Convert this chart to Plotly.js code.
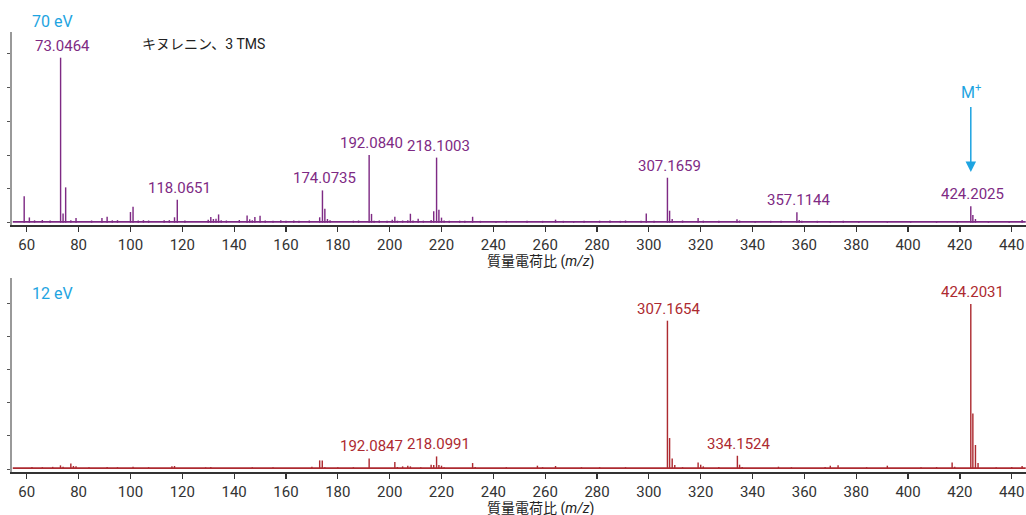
<!DOCTYPE html>
<html>
<head>
<meta charset="utf-8">
<script src="https://cdn.plot.ly/plotly-3.0.1.min.js"></script>
<style>
  html, body { margin: 0; padding: 0; background: #fff; }
  #chart { width: 1026px; height: 515px; }
</style>
</head>
<body>
<div id="chart"></div>
<script>
// ---------- DATA ----------
// 70 eV spectrum: m/z and relative intensity (axis units, 20 per tick)
const top_mz = [59, 61, 63, 66, 69, 73.0464, 74, 75, 77, 79, 85, 89, 91, 93, 95, 100, 101, 103, 105, 107,
  113, 115, 117, 118.0651, 121, 130, 131, 132, 133, 134, 135, 137, 142, 145, 146, 147, 148, 150, 152, 155,
  158, 160, 163, 165, 169, 173, 174.0735, 175, 176, 177, 186, 188, 192.084, 193, 194, 196, 199, 201, 202, 203,
  205, 207, 208, 209, 211, 213, 216, 217, 218.1003, 219, 220, 221, 223, 227, 229, 232, 235, 241, 245, 253,
  259, 264, 267, 271, 275, 281, 285, 289, 291, 297, 299, 302, 307.1659, 308, 309, 313, 319, 321, 327, 334,
  335, 341, 347, 351, 357.1144, 358, 359, 365, 370, 375, 381, 392, 401, 411, 419, 424.2025, 425, 426, 431, 439, 444];
const top_int = [15.6, 3.1, 1.4, 1.6, 1.3, 97.6, 5.5, 20.9, 1.4, 2.8, 1.3, 2.8, 3.5, 1.4, 1.5, 6.3, 9.5, 1.3, 1.5, 1.3,
  1.4, 1.5, 3.2, 13.6, 1.3, 1.8, 3.3, 2.2, 2.4, 4.9, 1.4, 1.3, 1.6, 4.3, 2.0, 1.4, 3.3, 4.1, 1.3, 1.2,
  1.4, 1.2, 1.3, 1.2, 1.3, 3.2, 19.1, 8.3, 2.2, 1.5, 1.2, 1.3, 40.1, 5.2, 1.2, 1.3, 1.2, 1.8, 3.5, 1.2,
  1.3, 1.4, 5.3, 1.3, 2.4, 1.2, 1.6, 6.7, 38.5, 7.7, 3.0, 1.3, 1.2, 1.2, 1.1, 3.5, 1.1, 1.0, 1.1, 1.1,
  1.1, 1.8, 1.1, 1.0, 1.1, 1.2, 1.3, 1.1, 1.3, 1.1, 5.5, 1.2, 26.6, 7.1, 2.2, 1.3, 2.8, 1.2, 1.1, 2.0,
  1.3, 1.0, 1.1, 1.1, 6.2, 1.6, 1.2, 1.1, 1.0, 1.1, 1.0, 0.9, 1.0, 1.0, 1.0, 9.7, 4.5, 2.2, 1.0, 1.0, 1.6];
const top_labels = [73.0464, 118.0651, 174.0735, 192.0840, 218.1003, 307.1659, 357.1144, 424.2025];

// 12 eV spectrum
const bot_mz = [62, 66, 70, 73, 74, 77, 78, 79, 84, 91, 95, 101, 107, 116, 117, 129, 131, 147, 155, 170,
  173, 174, 175, 180, 186, 192.0847, 202, 203, 205, 207, 208, 212, 216, 217, 218.0991, 219, 220, 221, 232, 233,
  245, 257, 259, 264, 274, 281, 291, 307.1654, 308, 309, 310, 313, 319, 320, 321, 327, 334.1524, 335, 336, 350,
  355, 368, 370, 373, 384, 392, 405, 411, 417, 418, 424.2031, 425, 426, 427, 434, 440, 444];
const bot_int = [1.2, 1.1, 1.3, 2.2, 1.4, 3.4, 1.8, 1.6, 1.1, 1.2, 1.1, 1.4, 1.1, 1.6, 1.8, 1.0, 1.2, 1.1, 1.0, 1.3,
  5.2, 5.2, 1.0, 1.1, 1.1, 6.4, 4.2, 1.2, 1.6, 2.0, 1.6, 1.1, 2.6, 2.4, 7.6, 2.4, 2.0, 1.0, 3.6, 1.2,
  1.1, 2.0, 1.1, 1.8, 1.1, 1.1, 1.1, 89.6, 18.7, 6.4, 2.4, 1.1, 4.0, 2.6, 1.6, 1.2, 8.0, 2.6, 1.2, 1.4,
  1.1, 1.2, 2.0, 2.2, 1.1, 2.0, 1.1, 1.2, 4.0, 1.4, 99.7, 33.6, 14.5, 3.6, 1.1, 1.2, 1.8];
const bot_labels = [192.0847, 218.0991, 307.1654, 334.1524, 424.2031];

// baseline noise level (dense noise floor) per panel
const noise_x = [54.6, 445.4];
const top_noise = [1.0, 1.0];
const bot_noise = [1.1, 1.1];

const x_ticks = [60, 80, 100, 120, 140, 160, 180, 200, 220, 240, 260, 280, 300, 320, 340, 360, 380, 400, 420, 440];
const y_ticks = [0, 20, 40, 60, 80, 100];

// ---------- STYLE ----------
const purple = '#7e2a84';
const red = '#ad2a30';
const cyan = '#1ea4e1';
const narrow = "Roboto, 'Noto Sans CJK JP', sans-serif";
const H = 515, W = 1026;
const xDom = [12 / W, 1];
const topDom = [(H - 225) / H, (H - 32) / H];
const botDom = [(H - 472) / H, (H - 278) / H];

function lookup(mz, ints, m) {
  const i = mz.indexOf(m);
  return ints[i];
}

const traces = [
  { type: 'scatter', mode: 'lines', x: noise_x, y: top_noise, fill: 'tozeroy', fillcolor: purple,
    line: { width: 0, color: purple }, xaxis: 'x', yaxis: 'y', hoverinfo: 'skip' },
  { type: 'bar', x: top_mz, y: top_int, width: 0.55, marker: { color: purple, line: { width: 0 } },
    xaxis: 'x', yaxis: 'y' },
  { type: 'scatter', mode: 'lines', x: noise_x, y: bot_noise, fill: 'tozeroy', fillcolor: red,
    line: { width: 0, color: red }, xaxis: 'x2', yaxis: 'y2', hoverinfo: 'skip' },
  { type: 'bar', x: bot_mz, y: bot_int, width: 0.55, marker: { color: red, line: { width: 0 } },
    xaxis: 'x2', yaxis: 'y2' }
];

const annotations = [];
top_labels.forEach(m => {
  annotations.push({ xref: 'x', yref: 'y', x: m, y: lookup(top_mz, top_int, m), text: m.toFixed(4),
    showarrow: false, yanchor: 'middle', xanchor: 'center', yshift: 12, xshift: 2,
    font: { family: narrow, size: 15, color: purple } });
});
bot_labels.forEach(m => {
  annotations.push({ xref: 'x2', yref: 'y2', x: m, y: lookup(bot_mz, bot_int, m), text: m.toFixed(4),
    showarrow: false, yanchor: 'middle', xanchor: 'center', yshift: 12, xshift: 2,
    font: { family: narrow, size: 15, color: red } });
});
// panel labels
annotations.push({ xref: 'paper', yref: 'paper', x: 52 / W, y: (H - 21.5) / H, text: '70 eV', showarrow: false,
  xanchor: 'center', yanchor: 'middle', font: { family: narrow, size: 16, color: cyan } });
annotations.push({ xref: 'paper', yref: 'paper', x: 52 / W, y: (H - 293.5) / H, text: '12 eV', showarrow: false,
  xanchor: 'center', yanchor: 'middle', font: { family: narrow, size: 16, color: cyan } });
annotations.push({ xref: 'paper', yref: 'paper', x: 140 / W, y: (H - 44) / H, text: 'キヌレニン、3 TMS', showarrow: false,
  xanchor: 'left', yanchor: 'middle', font: { family: narrow, size: 14, color: '#222' } });
// M+ arrow
annotations.push({ xref: 'x', yref: 'y', x: 424.2025, y: 30, text: 'M<sup>+</sup>', showarrow: true,
  ax: 0, ay: -80, arrowhead: 2, arrowsize: 1.4, arrowwidth: 1.5, arrowcolor: cyan, startstandoff: 3,
  font: { family: narrow, size: 16, color: cyan } });
// axis titles
const axTitle = '質量電荷比 (<i>m/z</i>)';
annotations.push({ xref: 'paper', yref: 'paper', x: 540 / W, y: (H - 261) / H, text: axTitle, showarrow: false,
  xanchor: 'center', yanchor: 'middle', font: { family: narrow, size: 14, color: '#222' } });
annotations.push({ xref: 'paper', yref: 'paper', x: 540 / W, y: (H - 508) / H, text: axTitle, showarrow: false,
  xanchor: 'center', yanchor: 'middle', font: { family: narrow, size: 14, color: '#222' } });

const xBase = {
  range: [54.3, 445.5], domain: xDom, tickmode: 'array', tickvals: x_ticks, ticktext: x_ticks.map(String),
  showline: true, linecolor: '#333', linewidth: 1.5, ticks: 'outside', ticklen: 5, tickwidth: 1.2, tickcolor: '#333',
  showgrid: false, zeroline: false, tickfont: { family: narrow, size: 15, color: '#333' }, fixedrange: true,
  ticklabeloverflow: 'allow'
};
const yBase = {
  tickmode: 'array', tickvals: y_ticks, showticklabels: false, showline: true, linecolor: '#999', linewidth: 2,
  ticks: 'outside', ticklen: 3, tickwidth: 1, tickcolor: '#555', showgrid: false, zeroline: false, fixedrange: true
};

const layout = {
  width: W, height: H, autosize: false,
  margin: { l: 0, r: 0, t: 0, b: 0 },
  paper_bgcolor: '#fff', plot_bgcolor: '#fff',
  showlegend: false, barmode: 'overlay',
  xaxis: Object.assign({}, xBase, { anchor: 'y' }),
  yaxis: Object.assign({}, yBase, { domain: topDom, range: [-1.36, 112.8], anchor: 'x' }),
  xaxis2: Object.assign({}, xBase, { anchor: 'y2' }),
  yaxis2: Object.assign({}, yBase, { domain: botDom, range: [-1.81, 115.4], anchor: 'x2' }),
  annotations: annotations
};

Plotly.newPlot('chart', traces, layout, { staticPlot: true, displayModeBar: false });
</script>
</body>
</html>
